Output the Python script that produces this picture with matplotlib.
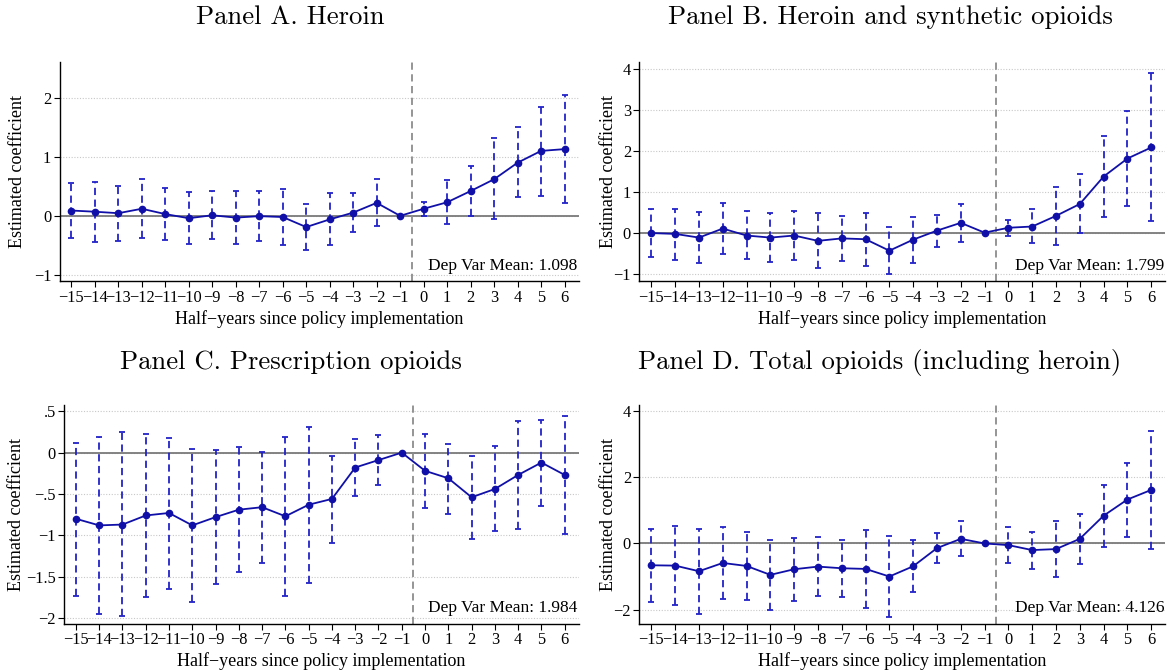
import matplotlib
matplotlib.use("Agg")
import matplotlib.pyplot as plt
import numpy as np

periods = list(range(-15, 7))
tick_labels = [str(p).replace("-", "\u2212") for p in periods]

titles = ["Panel A. Heroin", "Panel B. Heroin and synthetic opioids",
          "Panel C. Prescription opioids", "Panel D. Total opioids (including heroin)"]
dep_means = ["1.098", "1.799", "1.984", "4.126"]

coef_a = [0.09, 0.07, 0.045, 0.12, 0.03, -0.04, 0.01, -0.03, -0.005, -0.02, -0.19, -0.06, 0.055, 0.22, 0.0,
          0.12, 0.23, 0.42, 0.62, 0.90, 1.10, 1.13]
hi_a = [0.56, 0.58, 0.50, 0.63, 0.47, 0.40, 0.42, 0.42, 0.42, 0.45, 0.20, 0.39, 0.39, 0.62, 0.0,
        0.24, 0.60, 0.85, 1.31, 1.50, 1.85, 2.05]
lo_a = [-0.37, -0.44, -0.42, -0.38, -0.41, -0.47, -0.40, -0.48, -0.42, -0.49, -0.58, -0.50, -0.28, -0.18, 0.0,
        0.005, -0.14, -0.01, -0.06, 0.32, 0.33, 0.21]

coef_b = [-0.01, -0.03, -0.12, 0.10, -0.07, -0.12, -0.07, -0.20, -0.14, -0.16, -0.44, -0.17, 0.05, 0.24, 0.0,
          0.12, 0.15, 0.41, 0.70, 1.37, 1.81, 2.08]
hi_b = [0.59, 0.59, 0.50, 0.73, 0.53, 0.49, 0.54, 0.48, 0.41, 0.47, 0.14, 0.38, 0.43, 0.69, 0.0,
        0.31, 0.57, 1.11, 1.43, 2.35, 2.98, 3.89]
lo_b = [-0.60, -0.66, -0.74, -0.52, -0.65, -0.72, -0.67, -0.86, -0.70, -0.81, -1.02, -0.73, -0.35, -0.22, 0.0,
        -0.07, -0.26, -0.31, -0.02, 0.38, 0.65, 0.28]

coef_c = [-0.80, -0.88, -0.87, -0.76, -0.73, -0.88, -0.78, -0.69, -0.66, -0.77, -0.63, -0.56, -0.18, -0.09, 0.0,
          -0.22, -0.31, -0.54, -0.44, -0.27, -0.12, -0.27]
hi_c = [0.12, 0.19, 0.25, 0.23, 0.18, 0.04, 0.03, 0.07, 0.01, 0.19, 0.31, -0.04, 0.17, 0.21, 0.0,
        0.23, 0.10, -0.04, 0.08, 0.38, 0.40, 0.44]
lo_c = [-1.73, -1.95, -1.98, -1.75, -1.65, -1.81, -1.59, -1.44, -1.33, -1.73, -1.58, -1.09, -0.53, -0.39, 0.0,
        -0.67, -0.74, -1.04, -0.95, -0.92, -0.64, -0.98]

coef_d = [-0.66, -0.67, -0.84, -0.59, -0.68, -0.95, -0.78, -0.70, -0.75, -0.77, -1.00, -0.69, -0.14, 0.14, 0.0,
          -0.05, -0.20, -0.17, 0.14, 0.84, 1.33, 1.62]
hi_d = [0.44, 0.53, 0.45, 0.49, 0.36, 0.10, 0.18, 0.19, 0.12, 0.42, 0.24, 0.12, 0.32, 0.68, 0.0,
        0.49, 0.36, 0.69, 0.90, 1.78, 2.45, 3.41]
lo_d = [-1.76, -1.87, -2.13, -1.68, -1.70, -2.00, -1.75, -1.58, -1.62, -1.96, -2.24, -1.48, -0.58, -0.38, 0.0,
        -0.59, -0.77, -1.01, -0.61, -0.10, 0.20, -0.17]

yticks_a = [-1, 0, 1, 2]
yticks_b = [-1, 0, 1, 2, 3, 4]
yticks_c = [-2, -1.5, -1, -0.5, 0, 0.5]
yticks_d = [-2, 0, 2, 4]
ytl_a = ["\u22121", "0", "1", "2"]
ytl_b = ["\u22121", "0", "1", "2", "3", "4"]
ytl_c = ["\u22122", "\u22121.5", "\u22121", "\u2212.5", "0", ".5"]
ytl_d = ["\u22122", "0", "2", "4"]

panels = [
    (coef_a, lo_a, hi_a, yticks_a, ytl_a, (-1.11, 2.6)),
    (coef_b, lo_b, hi_b, yticks_b, ytl_b, (-1.19, 4.16)),
    (coef_c, lo_c, hi_c, yticks_c, ytl_c, (-2.07, 0.58)),
    (coef_d, lo_d, hi_d, yticks_d, ytl_d, (-2.43, 4.2)),
]

rects = [
    [0.051, 0.580, 0.444, 0.327],
    [0.547, 0.580, 0.450, 0.327],
    [0.055, 0.069, 0.440, 0.327],
    [0.547, 0.069, 0.450, 0.327],
]
ylabel_x = [-0.064, -0.042, -0.076, -0.042]
title_pos = [(290, 17), (890, 17), (291, 362), (880, 362)]

serif = ["Liberation Serif", "DejaVu Serif"]
W, H = 1169, 670
fig = plt.figure(figsize=(W / 100, H / 100), dpi=100)

line_col = "#1010a8"
err_col = "#2323c8"

for i, (coef, lo, hi, yt, ytl, ylim) in enumerate(panels):
    ax = fig.add_axes(rects[i])
    x = np.array(periods)
    c = np.array(coef)
    l = np.array(lo)
    h = np.array(hi)
    for yy in yt:
        ax.axhline(yy, color="#c8c8c8", lw=0.8, ls=(0, (1, 1.5)), zorder=0)
    ax.axhline(0, color="#7a7a7a", lw=1.3, zorder=1)
    ax.axvline(-0.5, color="#8c8c8c", lw=1.3, ls=(0, (4, 2.5)), zorder=1)
    eb = ax.errorbar(x, c, yerr=[c - l, h - c], fmt="none", ecolor=err_col,
                     elinewidth=1.3, capsize=2, capthick=1.3, zorder=2)
    eb[2][0].set_linestyle((0, (4, 2.5)))
    ax.plot(x, c, color=line_col, lw=1.3, marker="o", ms=4.5, zorder=3)
    ax.set_xlim(-15.5, 6.6)
    ax.set_ylim(*ylim)
    ax.set_xticks(periods)
    ax.set_xticklabels(tick_labels, fontfamily=serif, fontsize=11.8)
    ax.set_yticks(yt)
    ax.set_yticklabels(ytl, fontfamily=serif, fontsize=11.8)
    ax.spines["top"].set_visible(False)
    ax.spines["right"].set_visible(False)
    ax.spines["left"].set_linewidth(1.0)
    ax.spines["bottom"].set_linewidth(1.0)
    ax.tick_params(axis="both", direction="out", length=4, width=0.8, pad=2)
    ax.set_xlabel("Half\u2212years since policy implementation", fontfamily=serif, fontsize=13, labelpad=3)
    ax.set_ylabel("Estimated coefficient", fontfamily=serif, fontsize=13)
    ax.yaxis.set_label_coords(ylabel_x[i], 0.5)
    ax.text(0.998, 0.035, "Dep Var Mean: " + dep_means[i], transform=ax.transAxes,
            ha="right", va="bottom", fontfamily=serif, fontsize=12.5)
    tx, ty = title_pos[i]
    fig.text(tx / W, 1 - ty / H, titles[i], ha="center", va="center",
             fontfamily=["cmr10", "DejaVu Serif"], fontsize=19.2)

fig.savefig("out.png", dpi=100)
